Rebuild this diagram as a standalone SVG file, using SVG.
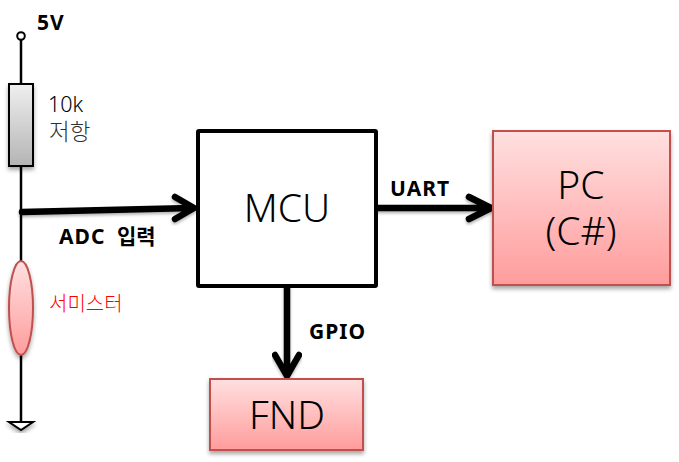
<svg xmlns="http://www.w3.org/2000/svg" width="679" height="462" viewBox="0 0 679 462">
<defs>
<linearGradient id="red" x1="0" y1="0" x2="0" y2="1"><stop offset="0" stop-color="#ffe0e0"/><stop offset="1" stop-color="#ff9c9c"/></linearGradient>
<linearGradient id="grey" x1="0" y1="0" x2="0" y2="1"><stop offset="0" stop-color="#efefef"/><stop offset="1" stop-color="#b4b4b4"/></linearGradient>
<filter id="sh" x="-30%" y="-30%" width="160%" height="160%"><feDropShadow dx="0" dy="3" stdDeviation="2" flood-color="#000" flood-opacity="0.35"/></filter>
<filter id="ls" x="-10%" y="-30%" width="120%" height="160%"><feDropShadow dx="0" dy="2" stdDeviation="1.5" flood-color="#000" flood-opacity="0.3"/></filter>
</defs>
<style>
text{font-family:"Noto Sans","Noto Sans CJK KR",sans-serif;fill:#000}
.b{font-weight:700;font-size:21px;letter-spacing:1px}
.big{font-size:39px;text-anchor:middle;font-weight:300}
.w{fill:none;stroke:#000;stroke-width:2.5}
.c{fill:none;stroke:#000;stroke-width:6.5;stroke-linecap:round;stroke-linejoin:round;filter:url(#ls)}
.k{font-family:"Noto Sans CJK KR","Noto Sans",sans-serif;font-weight:300}
.r{fill:url(#red);stroke:#c0504d;stroke-width:2;filter:url(#sh)}
</style>
<g id="connectors">
<path class="w" d="M21 40V84M21 166V261M21 354V422"/>
<path class="c" d="M22 212L192 208M175 197L194 208L175 219"/>
<path class="c" d="M378 208H489M469 197L491 208L469 219"/>
<path class="c" d="M287 286V375M275 355L287 376L299 355"/>
</g>
<g id="vcc"><circle cx="21" cy="36" r="3.8" fill="#fff" stroke="#000" stroke-width="2"/><text class="b" x="37" y="30">5V</text></g>
<g id="resistor"><rect x="9" y="84" width="24" height="82" fill="url(#grey)" stroke="#000" stroke-width="2" filter="url(#sh)"/><text x="48" y="112" font-size="21.5" font-weight="300">10k</text><text class="k" x="49" y="140" font-size="22.5" style="fill:#303030">저항</text></g>
<g id="adc"><text class="b" x="59" y="244">ADC <tspan x="117" font-size="21" style="letter-spacing:0">입력</tspan></text></g>
<g id="thermistor"><ellipse cx="21" cy="308" rx="12" ry="47" fill="url(#red)" stroke="#c0504d" stroke-width="2" filter="url(#sh)"/><text class="k" x="49" y="311" font-size="20" style="fill:#ff0000">서미스터</text></g>
<g id="ground"><path d="M9 422H33L21 430Z" fill="#fff" stroke="#000" stroke-width="2" filter="url(#sh)"/></g>
<g id="mcu"><rect x="198" y="131" width="178" height="155" rx="1" fill="#fff" stroke="#000" stroke-width="4"/><text class="big" x="287" y="222">MCU</text></g>
<g id="pc"><rect x="493" y="131" width="177" height="154" class="r"/><text class="big" x="581" y="199">PC</text><text class="big" x="581" y="245">(C#)</text></g>
<g id="fnd"><rect x="210" y="379" width="153" height="71" class="r"/><text class="big" x="287" y="429">FND</text></g>
<g id="labels"><text class="b" x="390" y="196">UART</text><text class="b" x="309" y="339">GPIO</text></g>
</svg>
